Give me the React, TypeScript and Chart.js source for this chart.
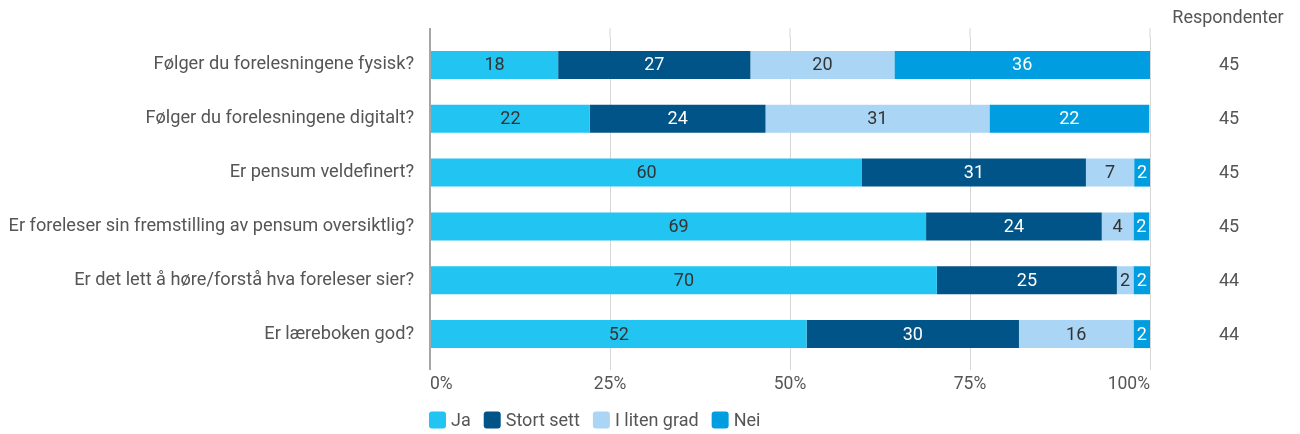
import React, { useEffect, useRef } from "react";
import { Chart, registerables } from "chart.js";

Chart.register(...registerables);

const questions = [
  "Følger du forelesningene fysisk?",
  "Følger du forelesningene digitalt?",
  "Er pensum veldefinert?",
  "Er foreleser sin fremstilling av pensum oversiktlig?",
  "Er det lett å høre/forstå hva foreleser sier?",
  "Er læreboken god?",
];

const seriesNames = ["Ja", "Stort sett", "I liten grad", "Nei"];
const seriesColors = ["#22C4F2", "#005487", "#AAD5F5", "#009EE0"];
const labelColors = ["#333333", "#FFFFFF", "#333333", "#FFFFFF"];

const ja = [17.8, 22.2, 60.0, 68.9, 70.4, 52.3];
const stortSett = [26.7, 24.4, 31.1, 24.4, 25.0, 29.5];
const litenGrad = [20.0, 31.1, 6.7, 4.4, 2.3, 15.9];
const nei = [35.5, 22.2, 2.2, 2.2, 2.3, 2.3];

const respondents = [45, 45, 45, 45, 44, 44];
const respondentsHeader = "Respondenter";

const xTicks = [0, 25, 50, 75, 100];

const FONT = "Roboto";
const TEXT = "#555555";

export default function App() {
  const ref = useRef<HTMLCanvasElement | null>(null);

  useEffect(() => {
    if (!ref.current) return;
    const seriesValues = [ja, stortSett, litenGrad, nei];

    const extras = {
      id: "extras",
      beforeDatasetsDraw(chart: any) {
        const { ctx, chartArea, scales } = chart;
        const x = scales.x;
        ctx.save();
        x.ticks.forEach((t: any) => {
          const px = x.getPixelForValue(t.value);
          ctx.beginPath();
          ctx.strokeStyle = t.value === 0 ? "#A6A6A6" : "#D6D6D6";
          ctx.lineWidth = t.value === 0 ? 2 : 1;
          ctx.moveTo(px, 28);
          ctx.lineTo(px, chartArea.top);
          ctx.stroke();
        });
        ctx.restore();
      },
      afterDatasetsDraw(chart: any) {
        const { ctx, chartArea, scales } = chart;
        ctx.save();
        ctx.font = `18px ${FONT}`;
        ctx.textAlign = "center";
        ctx.textBaseline = "middle";
        chart.data.datasets.forEach((ds: any, di: number) => {
          const meta = chart.getDatasetMeta(di);
          meta.data.forEach((bar: any, i: number) => {
            const v = ds.data[i];
            const cx = (bar.x + bar.base) / 2;
            ctx.fillStyle = labelColors[di];
            ctx.fillText(String(Math.round(v)), cx, bar.y + 1);
          });
        });
        const y = scales.y;
        ctx.fillStyle = TEXT;
        ctx.fillText(respondentsHeader, 1228, 18);
        respondents.forEach((r, i) => {
          ctx.fillText(String(r), 1229, y.getPixelForValue(i) + 1);
        });
        let lx = chartArea.left - 1;
        const ly = 420;
        ctx.textAlign = "left";
        chart.data.datasets.forEach((ds: any) => {
          ctx.fillStyle = ds.backgroundColor;
          ctx.beginPath();
          (ctx as any).roundRect(lx, ly - 8.5, 17, 17, 3);
          ctx.fill();
          lx += 17 + 5;
          ctx.fillStyle = TEXT;
          ctx.fillText(ds.label, lx, ly + 1);
          lx += ctx.measureText(ds.label).width + 13;
        });
        ctx.restore();
      },
    };

    const chart = new Chart(ref.current, {
      type: "bar",
      data: {
        labels: questions,
        datasets: seriesNames.map((name, i) => ({
          label: name,
          data: seriesValues[i],
          backgroundColor: seriesColors[i],
          borderWidth: 0,
          barPercentage: 0.52,
          categoryPercentage: 1,
        })),
      },
      options: {
        indexAxis: "y",
        animation: false,
        responsive: true,
        maintainAspectRatio: false,
        layout: { padding: { top: 38, right: 150, left: 0, bottom: 0 } },
        plugins: {
          legend: { display: false },
          tooltip: { enabled: false },
        },
        scales: {
          x: {
            stacked: true,
            min: 0,
            max: 100,
            afterFit: (s: any) => {
              s.height = 73;
            },
            afterBuildTicks: (s: any) => {
              s.ticks = xTicks.map((v) => ({ value: v }));
            },
            border: { display: false },
            grid: {
              color: (c: any) => (c.tick && c.tick.value === 0 ? "#A6A6A6" : "#D6D6D6"),
              lineWidth: (c: any) => (c.tick && c.tick.value === 0 ? 2 : 1),
              drawTicks: true,
              tickLength: 9,
            },
            ticks: {
              padding: 4,
              align: "inner",
              color: TEXT,
              font: { family: FONT, size: 17.5 },
              callback: (v: any) => `${v}%`,
            },
          },
          y: {
            stacked: true,
            afterFit: (s: any) => {
              s.width = 430;
            },
            grid: { display: false, drawTicks: false },
            border: { display: false },
            ticks: {
              padding: 16,
              color: TEXT,
              font: { family: FONT, size: 18.2 },
            },
          },
        },
      },
      plugins: [extras],
    });
    return () => chart.destroy();
  }, []);

  return (
    <div style={{ position: "fixed", left: 0, top: 0, width: 1300, height: 434, background: "#fff" }}>
      <canvas ref={ref} />
    </div>
  );
}
